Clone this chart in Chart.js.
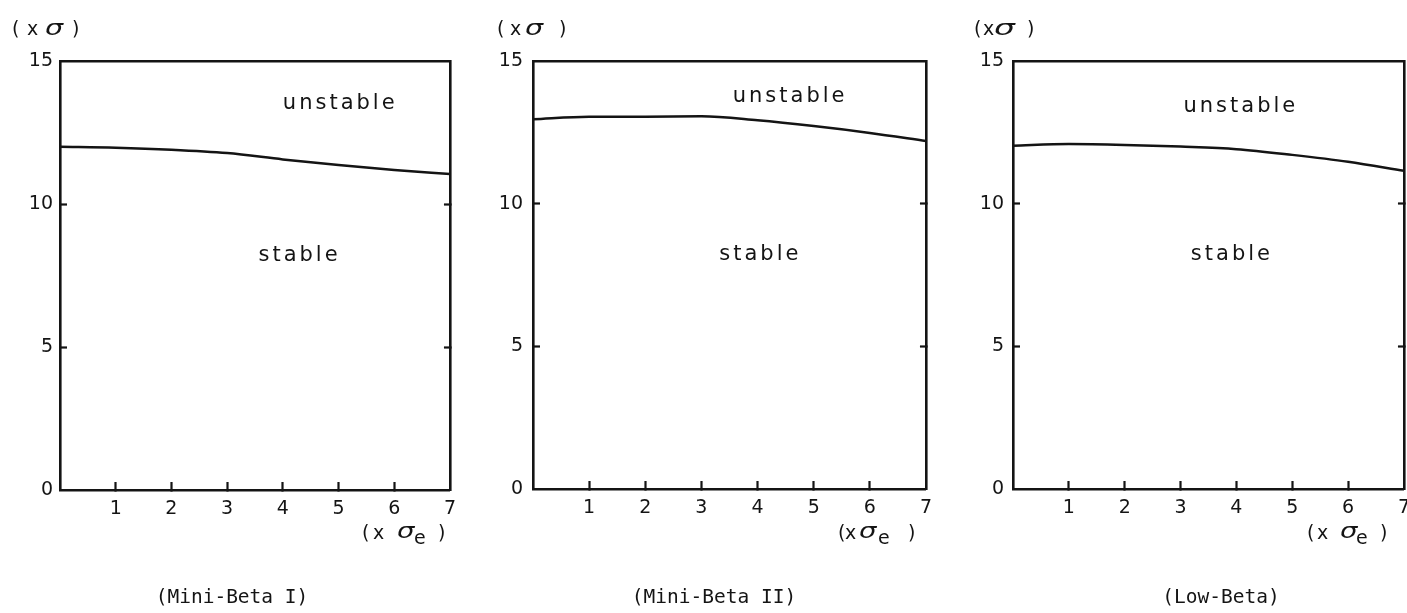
<!DOCTYPE html>
<html>
<head>
<meta charset="utf-8">
<script src="https://cdn.jsdelivr.net/npm/chart.js@4.4.1/dist/chart.umd.min.js"></script>
<style>
  html, body { margin: 0; padding: 0; background: #fff; width: 1407px; height: 613px; overflow: hidden; position: relative; }
  .panel { position: absolute; top: 0; height: 613px; }
  canvas { display: block; }
</style>
</head>
<body>
<div class="panel" style="left:0px;width:472px"><canvas id="p1" width="472" height="613"></canvas></div>
<div class="panel" style="left:470px;width:478px"><canvas id="p2" width="478" height="613"></canvas></div>
<div class="panel" style="left:940px;width:486px"><canvas id="p3" width="486" height="613"></canvas></div>
<script>
// Beam-beam stability limit versus horizontal offset (in units of sigma_e)
const xSigmaE   = [0, 1, 2, 3, 4, 5, 6, 7];
const miniBetaI  = [12.00, 11.97, 11.90, 11.78, 11.56, 11.36, 11.19, 11.05];
const miniBetaII = [12.96, 13.05, 13.05, 13.06, 12.92, 12.72, 12.48, 12.20];
const lowBeta    = [12.03, 12.09, 12.06, 12.00, 11.91, 11.71, 11.47, 11.15];

const yTicks = [0, 5, 10, 15];
const xTicks = [1, 2, 3, 4, 5, 6, 7];
const yInnerTicks = [5, 10];
const xInnerTicks = [1, 2, 3, 4, 5, 6];
const captions = ['(Mini-Beta I)', '(Mini-Beta II)', '(Low-Beta)'];
const regionLabels = ['unstable', 'stable'];

const ink = '#141414';
const sans = '"DejaVu Sans", sans-serif';

// draws a row of glyph pieces; sx stretches a piece horizontally
function drawParts(ctx, x0, yMid, parts) {
  for (const p of parts) {
    ctx.save();
    ctx.font = p.font;
    ctx.translate(x0 + p.dx, yMid + (p.dy || 0));
    ctx.scale(p.sx || 1, 1);
    ctx.fillText(p.t, 0, 0);
    ctx.restore();
  }
}

function makePanel(id, values, cfg) {
  const textPlugin = {
    id: 'panelText',
    afterDraw(chart) {
      const { ctx, chartArea: a, scales: { x, y } } = chart;
      ctx.save();
      ctx.fillStyle = ink;
      ctx.textBaseline = 'middle';

      // region names
      ctx.textAlign = 'center';
      ctx.font = '21px ' + sans;
      ctx.letterSpacing = '3px';
      ctx.fillText(regionLabels[0], x.getPixelForValue(cfg.unstableAt[0]), y.getPixelForValue(cfg.unstableAt[1]));
      ctx.fillText(regionLabels[1], x.getPixelForValue(cfg.stableAt[0]), y.getPixelForValue(cfg.stableAt[1]));
      ctx.letterSpacing = '0px';

      // axis units
      ctx.textAlign = 'left';
      const reg = '19px ' + sans;
      const ital = 'italic 22px ' + sans;
      const sub = '19px ' + sans;
      const u = cfg.yUnit, v = cfg.xUnit;
      drawParts(ctx, a.left + u.at, 30, [
        { t: '(', dx: 0, font: reg },
        { t: 'x', dx: u.x, font: reg },
        { t: 'σ', dx: u.s, font: ital, dy: -1, sx: u.sx },
        { t: ')', dx: u.c, font: reg }
      ]);
      drawParts(ctx, a.right + v.at, 534, [
        { t: '(', dx: 0, font: reg },
        { t: 'x', dx: v.x, font: reg },
        { t: 'σ', dx: v.s, font: ital, dy: -2, sx: 1.25 },
        { t: 'e', dx: v.e, font: sub, dy: 5 },
        { t: ')', dx: v.c, font: reg }
      ]);

      // panel caption
      ctx.textAlign = 'center';
      ctx.font = '19.5px "DejaVu Sans Mono", monospace';
      ctx.fillText(cfg.caption, a.left + cfg.captionDx, 598);
      ctx.restore();
    }
  };

  const tickColorFor = (inner) => (c) => (c.tick && inner.includes(c.tick.value)) ? ink : 'rgba(0,0,0,0)';
  const tickFont = { family: 'DejaVu Sans', size: 19 };
  const frame = 2.6;

  return new Chart(document.getElementById(id), {
    type: 'line',
    data: {
      datasets: [{
        data: xSigmaE.map((v, i) => ({ x: v, y: values[i] })),
        borderColor: ink,
        borderWidth: 2.5,
        pointRadius: 0,
        cubicInterpolationMode: 'monotone',
        fill: false
      }]
    },
    options: {
      responsive: false,
      animation: false,
      events: [],
      layout: {
        autoPadding: false,
        padding: { left: 0, right: 0, top: 61, bottom: cfg.padBottom }
      },
      plugins: { legend: { display: false }, tooltip: { enabled: false } },
      scales: {
        x: {
          type: 'linear', position: 'bottom', min: 0, max: 7,
          afterBuildTicks: (s) => { s.ticks = xTicks.map(v => ({ value: v })); },
          afterFit: (s) => { s.height = 50; },
          grid: { drawOnChartArea: false, drawTicks: true, tickLength: -8, tickWidth: 2.2, tickColor: tickColorFor(xInnerTicks) },
          border: { display: true, color: ink, width: frame },
          ticks: { color: ink, font: tickFont, padding: 16, maxRotation: 0, autoSkip: false, callback: (v) => String(v) }
        },
        y: {
          type: 'linear', position: 'left', min: 0, max: 15,
          afterBuildTicks: (s) => { s.ticks = yTicks.map(v => ({ value: v })); },
          afterFit: (s) => { s.width = cfg.yWidth; },
          grid: { drawOnChartArea: false, drawTicks: true, tickLength: -7, tickWidth: 2.2, tickColor: tickColorFor(yInnerTicks) },
          border: { display: true, color: ink, width: frame },
          ticks: { color: ink, font: tickFont, padding: cfg.yPad, autoSkip: false, callback: (v) => String(v) }
        },
        xTop: {
          type: 'linear', position: 'top', min: 0, max: 7,
          afterFit: (s) => { s.height = 0; },
          grid: { display: false },
          border: { display: true, color: ink, width: frame },
          ticks: { display: false }
        },
        yRight: {
          type: 'linear', position: 'right', min: 0, max: 15,
          afterBuildTicks: (s) => { s.ticks = yTicks.map(v => ({ value: v })); },
          afterFit: (s) => { s.width = 0; },
          grid: { drawOnChartArea: false, drawTicks: true, tickLength: -6, tickWidth: 2.2, tickColor: tickColorFor(yInnerTicks) },
          border: { display: true, color: ink, width: frame },
          ticks: { display: false }
        }
      }
    },
    plugins: [textPlugin]
  });
}

makePanel('p1', miniBetaI, {
  yWidth: 60, yPad: 14, padBottom: 73,
  unstableAt: [5.03, 13.5], stableAt: [4.3, 8.2],
  yUnit: { at: -48, x: 15, s: 33, c: 60, sx: 1.3 },
  xUnit: { at: -88, x: 11, s: 35, e: 52, c: 76 },
  caption: captions[0], captionDx: 172
});
makePanel('p2', miniBetaII, {
  yWidth: 63, yPad: 17, padBottom: 74,
  unstableAt: [4.58, 13.74], stableAt: [4.05, 8.2],
  yUnit: { at: -36, x: 13, s: 28, c: 62, sx: 1.3 },
  xUnit: { at: -88, x: 7, s: 21, e: 40, c: 70 },
  caption: captions[1], captionDx: 181
});
makePanel('p3', lowBeta, {
  yWidth: 73, yPad: 16, padBottom: 74,
  unstableAt: [4.08, 13.39], stableAt: [3.92, 8.2],
  yUnit: { at: -39, x: 9, s: 20, c: 53, sx: 1.5 },
  xUnit: { at: -97, x: 10, s: 33, e: 49, c: 73 },
  caption: captions[2], captionDx: 208
});
</script>
</body>
</html>
